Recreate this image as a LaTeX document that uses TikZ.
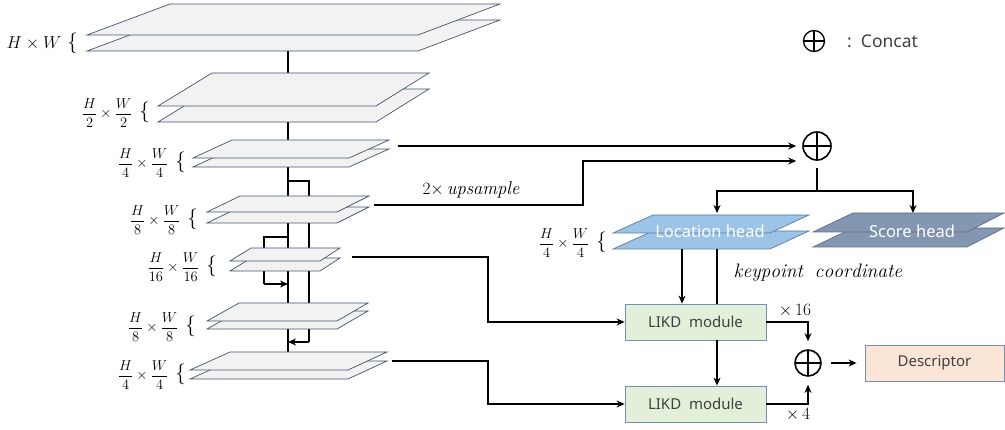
\documentclass[tikz,border=0pt]{standalone}
\usepackage{amsmath}
\usepackage{fontspec}
\setsansfont{Noto Sans}
\usetikzlibrary{arrows.meta,calc}
\definecolor{layfill}{HTML}{F2F2F2}
\definecolor{layedge}{HTML}{44546A}
\definecolor{locfill}{HTML}{9DC3E6}
\definecolor{locedge}{HTML}{5B7DA8}
\definecolor{scorefill}{HTML}{8497B0}
\definecolor{scoreedge}{HTML}{5A6E8C}
\definecolor{likdfill}{HTML}{E2F0D9}
\definecolor{boxedge}{HTML}{7391B4}
\definecolor{descfill}{HTML}{FBE5D6}
\definecolor{txtgray}{HTML}{404040}
\newcommand\twoplane[8]{% #1 yt #2 yb #3 bl #4 br #5 tl #6 tr #7 dy #8 style
  \path[#8] (#3,{#2+#7}) -- (#4,{#2+#7}) -- (#6,{#1+#7}) -- (#5,{#1+#7}) -- cycle;
  \path[#8] (#3,#2) -- (#4,#2) -- (#6,#1) -- (#5,#1) -- cycle;}
\newcommand\fraclab[2]{{\fontsize{14.5}{17}\selectfont$\dfrac{H}{#1}\times\dfrac{W}{#2}$}\hspace{7pt}{\fontsize{20}{23}\selectfont$\{$}}
\tikzset{
  layer/.style={fill=layfill,draw=layedge,line width=0.7pt,line join=miter},
  lochead/.style={fill=locfill,draw=locedge,line width=0.7pt},
  scorehead/.style={fill=scorefill,draw=scoreedge,line width=0.7pt},
  conn/.style={line width=1.1pt,draw=black},
  arr/.style={conn,-{Stealth[length=8pt,width=7pt,inset=2.5pt]}},
  mlab/.style={anchor=east,inner sep=0pt},
  likd/.style={draw=boxedge,fill=likdfill,line width=0.8pt,minimum width=141pt,minimum height=36pt,inner sep=0pt,
     font=\sffamily\fontsize{15}{18}\selectfont,text=txtgray},
  descbox/.style={draw=boxedge,fill=descfill,line width=0.8pt,minimum width=139pt,minimum height=36pt,inner sep=0pt,
     font=\sffamily\fontsize{15}{18}\selectfont,text=txtgray},
  catc/.style={circle,draw=black,line width=1.6pt,inner sep=0pt,minimum size=#1,
     path picture={\draw[line width=1.6pt] (path picture bounding box.north) -- (path picture bounding box.south)
       (path picture bounding box.west) -- (path picture bounding box.east);}},
  headtxt/.style={text=white,font=\sffamily\fontsize{16.5}{19}\selectfont,inner sep=0pt},
  mtxt/.style={inner sep=0pt,font=\fontsize{17}{20}\selectfont},
}
\begin{document}
\begin{tikzpicture}[x=1pt,y=-1pt]
\useasboundingbox (0,0) rectangle (1005,430);
% backbone line and skips
\coordinate (top) at (288,51);
\coordinate (bot) at (288,352);
\draw[conn] (top) -- (bot);
\coordinate (s1a) at (288,181);
\coordinate (s1b) at (309,342);
\coordinate (s1c) at (288,342);
\draw[conn] (s1a) -| (s1b);
\draw[arr] (s1b) -- (s1c);
\coordinate (s2a) at (288,237);
\coordinate (s2b) at (264,284);
\coordinate (s2c) at (288,284);
\draw[conn] (s2a) -| (s2b);
\draw[arr] (s2b) -- (s2c);
% layers
\twoplane{4}{35}{87}{418}{170}{500}{16}{layer}
\twoplane{73}{106}{158}{376}{212}{429}{16}{layer}
\twoplane{140}{158}{193}{349}{232}{389}{9}{layer}
\twoplane{196}{212}{207}{337}{240}{369}{11}{layer}
\twoplane{248}{261}{230}{320}{251}{340}{10}{layer}
\twoplane{303}{321}{207}{337}{239}{368}{8}{layer}
\twoplane{352}{370}{190}{348}{230}{387}{9}{layer}
% labels of layers
\node[mlab] (lab1) at (78,43) {{\fontsize{18}{21}\selectfont$H\times W$}\hspace{6pt}{\fontsize{20}{23}\selectfont$\{$}};
\node[mlab] (lab2) at (150,113) {\fraclab{2}{2}};
\node[mlab] (lab3) at (186,163) {\fraclab{4}{4}};
\node[mlab] (lab4) at (198,220) {\fraclab{8}{8}};
\node[mlab] (lab5) at (217,267) {\fraclab{16}{16}};
\node[mlab] (lab6) at (196,327) {\fraclab{8}{8}};
\node[mlab] (lab7) at (186,375) {\fraclab{4}{4}};
\node[mlab] (lab8) at (607,243) {\fraclab{4}{4}};
% heads
\twoplane{215}{233}{613}{770}{653}{809}{16}{lochead}
\twoplane{213}{232}{813}{967}{853}{1004}{15}{scorehead}
\node[headtxt] (loc) at (710,231) {Location head};
\node[headtxt] (score) at (912,231) {Score head};
% concat main
\node[catc=28pt] (c1) at (817,146) {};
\coordinate (a3) at (398,146);
\coordinate (a4) at (374,205);
\coordinate (up) at (583,161);
\draw[arr,shorten >=6pt] (a3) -- (c1.west);
\draw[arr,shorten >=6pt] (a4) -| (up) -- (c1.west |- up);
\node[mtxt,font=\fontsize{18.5}{21}\selectfont] (ups) at (471,190) {$2{\times}\,\mathit{upsample}$};
\coordinate (split) at (817,191);
\coordinate (lt) at (717,213);
\coordinate (st) at (913,213);
\draw[conn,shorten <=7pt] (c1.south) -- (split);
\draw[arr] (split) -| (lt);
\draw[arr] (split) -| (st);
% LIKD modules
\node[likd] (k1) at (695.5,322) {LIKD\ \ module};
\node[likd] (k2) at (695.5,404) {LIKD\ \ module};
\coordinate (lb1) at (682,249);
\coordinate (lb2) at (717,249);
\draw[arr] (lb1) -- (lb1 |- k1.north);
\draw[conn] (lb2) -- (lb2 |- k1.north);
\draw[arr] (lb2 |- k1.south) -- (lb2 |- k2.north);
\node[mtxt,font=\fontsize{19.5}{22}\selectfont] (kc) at (818,273) {$\mathit{keypoint\ \ coordinate}$};
% from layers to LIKD
\coordinate (a5) at (352,257);
\coordinate (a7) at (392,361);
\coordinate (m5) at (488,322);
\coordinate (m7) at (488,404);
\draw[arr] (a5) -| (m5) -- (k1.west);
\draw[arr] (a7) -| (m7) -- (k2.west);
% concat 2 and descriptor
\node[catc=26pt] (c2) at (808,363) {};
\node[descbox] (desc) at (934.5,363) {Descriptor};
\draw[arr,shorten >=8pt] (k1.east) -| (c2.north);
\draw[arr,shorten >=8pt] (k2.east) -| (c2.south);
\draw[arr,shorten <=9pt,shorten >=8pt] (c2.east) -- (desc.west);
\node[mtxt,font=\fontsize{17}{20}\selectfont] (x16) at (795,311) {$\times\,16$};
\node[mtxt,font=\fontsize{17}{20}\selectfont] (x4) at (798,415) {$\times\,4$};
% legend
\node[catc=21pt,line width=1.3pt] (leg) at (814,41) {};
\node[anchor=west,inner sep=0pt,text=txtgray,font=\sffamily\fontsize{17.5}{20}\selectfont] (legt) at (847,41) {:\ \ Concat};
\end{tikzpicture}
\end{document}
